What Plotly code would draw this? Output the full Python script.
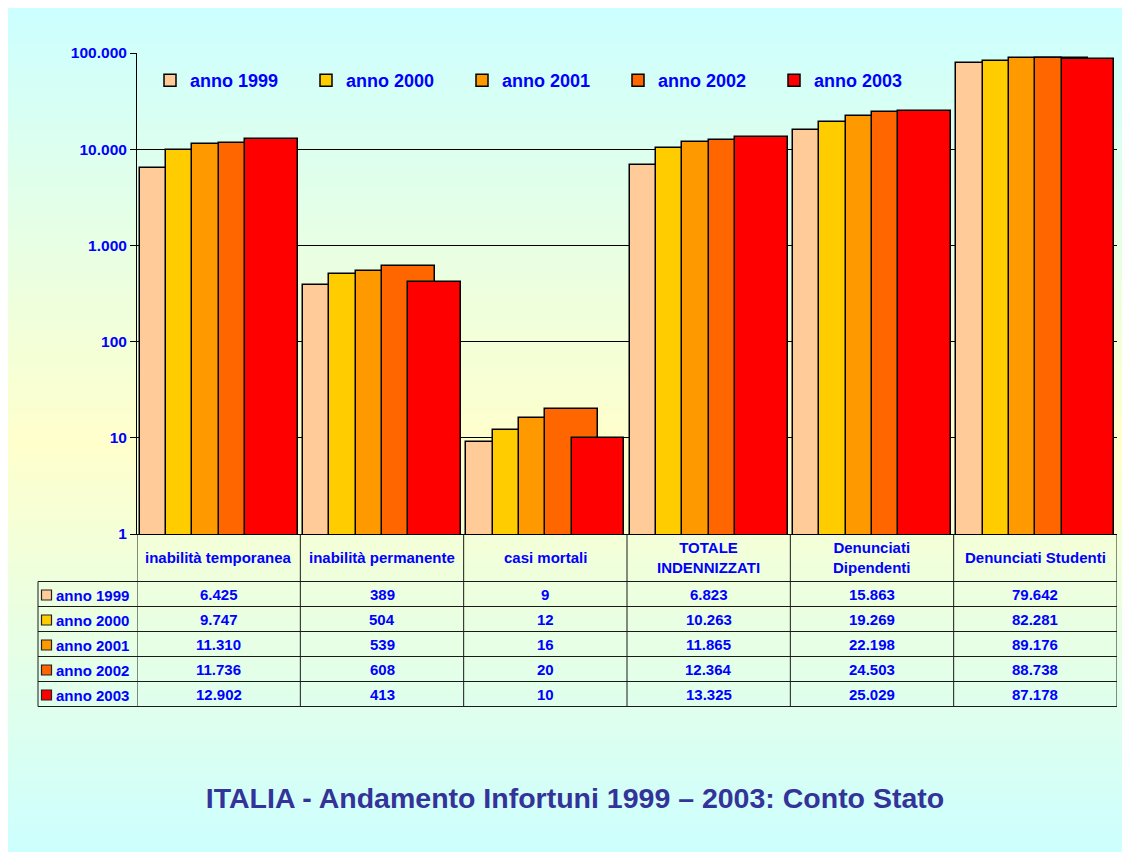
import plotly.graph_objects as go

categories = ["inabilità temporanea", "inabilità permanente", "casi mortali",
              "TOTALE INDENNIZZATI", "Denunciati Dipendenti", "Denunciati Studenti"]
header_labels = ["inabilità temporanea", "inabilità permanente", "casi mortali",
                 "TOTALE<br>INDENNIZZATI", "Denunciati<br>Dipendenti", "Denunciati Studenti"]
years = ["anno 1999", "anno 2000", "anno 2001", "anno 2002", "anno 2003"]
colors = ["#FFCC99", "#FFCC00", "#FF9900", "#FF6600", "#FF0000"]

v1999 = [6425, 389, 9, 6823, 15863, 79642]
v2000 = [9747, 504, 12, 10263, 19269, 82281]
v2001 = [11310, 539, 16, 11865, 22198, 89176]
v2002 = [11736, 608, 20, 12364, 24503, 88738]
v2003 = [12902, 413, 10, 13325, 25029, 87178]
series = [v1999, v2000, v2001, v2002, v2003]

y_tickvals = [1, 10, 100, 1000, 10000, 100000]
y_ticktext = ["1", "10", "100", "1.000", "10.000", "100.000"]

title = "ITALIA - Andamento Infortuni 1999 – 2003: Conto Stato"

W, H = 1130, 852
OFF = 8  # page body margin
# plot area in screen pixels
PL, PR, PT, PB = 137, 1117, 53, 534
BLUE = "#0000FF"
FONT = "Liberation Sans, Arial, sans-serif"


def px_x(x):
    return (x - PL) / (PR - PL)


def px_y(y):
    return (PB - y) / (PB - PT)


def fmt(v):
    return f"{v:,}".replace(",", ".")


fig = go.Figure()

step, width = 0.161, 0.3215
start = -(4 * step + width) / 2
for i, (name, vals, col) in enumerate(zip(years, series, colors)):
    fig.add_trace(go.Bar(
        x=categories, y=vals, name=name,
        offset=start + i * step, width=width,
        marker=dict(color=col, line=dict(color="#000000", width=1.5)),
    ))

shapes = []

# background gradient: cyan -> light yellow -> cyan
top, bot = 10, H + OFF
mid = (top + bot) / 2 + 8
n = 120
c_edge = (204, 255, 255)
c_mid = (255, 255, 204)
for k in range(n):
    y0 = top + (bot - top) * k / n
    y1 = top + (bot - top) * (k + 1) / n
    yc = (y0 + y1) / 2
    t = min(1.0, abs(yc - mid) / ((mid - top) if yc < mid else (bot - mid)))
    rgb = tuple(round(c_mid[j] + (c_edge[j] - c_mid[j]) * t) for j in range(3))
    shapes.append(dict(type="rect", xref="paper", yref="paper", layer="below",
                       x0=px_x(0), x1=px_x(W + OFF + 2), y0=px_y(y0), y1=px_y(y1 + 0.6),
                       line=dict(width=0), fillcolor=f"rgb{rgb}"))

# data table grid
ROW_TOP, ROW_H = 581.5, 25
LABEL_L = 38
n_rows = len(years)
table_bottom = ROW_TOP + n_rows * ROW_H
line_style = dict(color="#1a1a1a", width=1)
for i in range(len(categories) + 1):
    shapes.append(dict(type="line", xref="x", yref="paper", x0=i - 0.5, x1=i - 0.5,
                       y0=px_y(PB), y1=px_y(table_bottom), line=line_style))
shapes.append(dict(type="line", xref="paper", yref="paper", x0=px_x(LABEL_L), x1=px_x(LABEL_L),
                   y0=px_y(ROW_TOP), y1=px_y(table_bottom), line=line_style))
for r in range(n_rows + 1):
    yy = ROW_TOP + r * ROW_H
    shapes.append(dict(type="line", xref="paper", yref="paper", x0=px_x(LABEL_L), x1=1,
                       y0=px_y(yy), y1=px_y(yy), line=line_style))

table_font = dict(family=FONT, size=15, color=BLUE, weight="bold")
annotations = []
for i, lab in enumerate(header_labels):
    annotations.append(dict(xref="x", yref="paper", x=i, y=px_y((PB + ROW_TOP) / 2),
                            text=lab, showarrow=False, xanchor="center", yanchor="middle",
                            font=table_font))
for r, (name, vals, col) in enumerate(zip(years, series, colors)):
    yc = ROW_TOP + (r + 0.5) * ROW_H
    shapes.append(dict(type="rect", xref="paper", yref="paper",
                       x0=px_x(41.5), x1=px_x(51.5), y0=px_y(yc - 4), y1=px_y(yc + 6),
                       fillcolor=col, line=dict(color="#222222", width=1.2)))
    annotations.append(dict(xref="paper", yref="paper", x=px_x(54), y=px_y(yc + 1),
                            text=name, showarrow=False, xanchor="left", yanchor="middle",
                            font=table_font))
    for i, v in enumerate(vals):
        annotations.append(dict(xref="x", yref="paper", x=i, y=px_y(yc),
                                text=fmt(v), showarrow=False, xanchor="center", yanchor="middle",
                                font=table_font))

fig.update_layout(
    width=W, height=H,
    margin=dict(l=PL - OFF, r=W - PR + OFF, t=PT - OFF, b=H - PB + OFF),
    paper_bgcolor="#CCFFFF",
    plot_bgcolor="rgba(0,0,0,0)",
    barmode="overlay",
    bargap=0,
    showlegend=True,
    legend=dict(orientation="h", x=px_x(150), y=px_y(62), xanchor="left", yanchor="top",
                bgcolor="rgba(0,0,0,0)", entrywidth=111, traceorder="normal",
                font=dict(family=FONT, size=18, color=BLUE, weight="bold")),
    xaxis=dict(showticklabels=False, showgrid=False, showline=True, linecolor="#000000",
               linewidth=1, ticks="", range=[-0.5, len(categories) - 0.5], fixedrange=True),
    yaxis=dict(type="log", range=[0, 5], tickvals=y_tickvals, ticktext=y_ticktext,
               showgrid=True, gridcolor="#000000", gridwidth=1,
               showline=True, linecolor="#000000", linewidth=1,
               ticks="outside", ticklen=6, tickcolor="#000000",
               tickfont=dict(family=FONT, size=15.5, color=BLUE, weight="bold")),
    title=dict(text=title, x=(575 - OFF) / W, y=1 - (798 - OFF) / H,
               xanchor="center", yanchor="middle",
               font=dict(family=FONT, size=28.5, color="#333399", weight="bold")),
    shapes=shapes,
    annotations=annotations,
)

fig.write_html("out.html")
